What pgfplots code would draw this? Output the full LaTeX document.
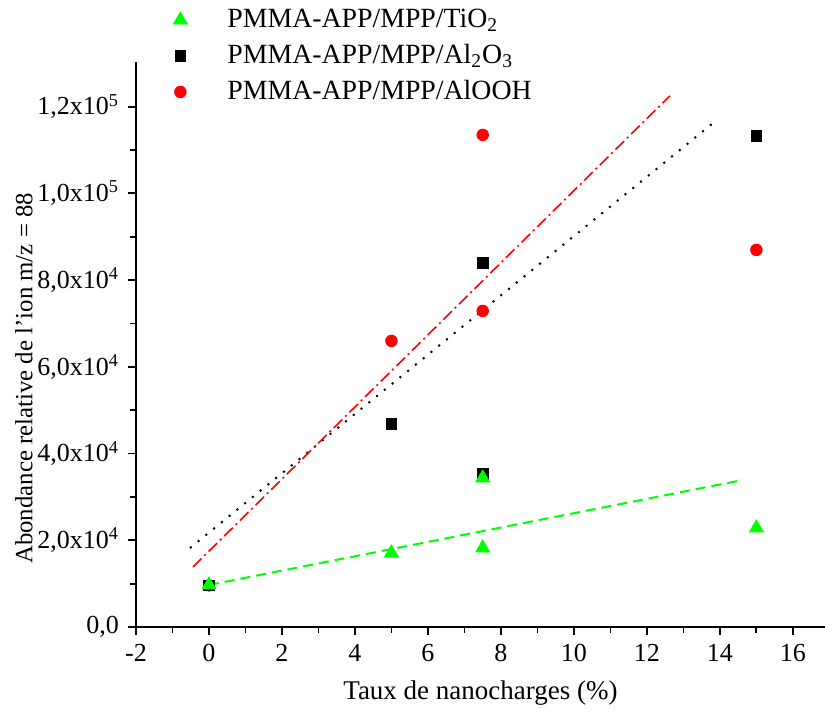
\documentclass[border=0pt]{standalone}
\usepackage{pgfplots}
\pgfplotsset{compat=1.18}
\usepackage{fontspec}
\setmainfont{Liberation Serif}
\definecolor{pgreen}{RGB}{0,255,0}
\definecolor{pred}{RGB}{255,0,0}
\pgfplotsset{
  legend image code/.code={\path[draw=none] (-8pt,0pt) -- (21.5pt,0pt); \draw[#1] plot[only marks] coordinates {(0pt,0pt)};}
}
\begin{document}
\fontsize{13pt}{15pt}\selectfont
\begin{tikzpicture}
\begin{axis}[
  at={(0,0)}, anchor=south west,
  scale only axis,
  width=344.5pt, height=282.5pt,
  xmin=-2, xmax=16.88, ymin=0, ymax=130300,
  axis x line*=bottom, axis y line*=left,
  axis line style={line width=1pt},
  tick align=outside,
  major tick length=4pt, minor tick length=3pt,
  every tick/.style={black, line width=0.9pt},
  xtick={-2,0,2,4,6,8,10,12,14,16},
  xticklabels={-2,0,2,4,6,8,10,12,14,16},
  minor x tick num=1,
  ytick={0,20000,40000,60000,80000,100000,120000},
  yticklabels={{0,0},{2,0x10\textsuperscript{4}},{4,0x10\textsuperscript{4}},{6,0x10\textsuperscript{4}},{8,0x10\textsuperscript{4}},{1,0x10\textsuperscript{5}},{1,2x10\textsuperscript{5}}},
  minor y tick num=1,
  scaled y ticks=false,
  tick label style={font=\fontsize{13pt}{15pt}\selectfont},
  xlabel style={font=\fontsize{13.5pt}{16pt}\selectfont, yshift=-0.5pt},
  ylabel style={font=\fontsize{12.4pt}{15pt}\selectfont, at={(rel axis cs:-0.1626,0.44)}, anchor=center},
  xlabel={Taux de nanocharges (\%)},
  ylabel={Abondance relative de l'ion m/z = 88},
  clip=false,
  reverse legend,
  legend cell align=left,
  legend style={draw=none, fill=none, inner sep=0pt, row sep=3.5pt,
    at={(0.0406,1.10)}, anchor=north west,
    nodes={inner ysep=1.5pt},
    font=\fontsize{13.9pt}{16pt}\selectfont},
]
% fit lines
\addplot[forget plot, pgreen, line width=1pt, dash pattern=on 5pt off 3pt] coordinates {(0,9690) (14.63,33910)};
\addplot[forget plot, black, line width=1pt, dash pattern=on 1pt off 4pt] coordinates {(-0.52,18220) (13.78,116000)};
\addplot[forget plot, pred, line width=0.8pt, dash pattern=on 6pt off 2pt on 1pt off 2pt] coordinates {(-0.44,13840) (12.63,122490)};
% data
\addplot[only marks, mark=*, mark size=2.9pt, pred, mark options={fill=pred, draw=pred}]
  coordinates {(0,9600) (5,65970) (7.5,113490) (7.5,72890) (15,86970)};
\addlegendentry{PMMA-APP/MPP/AlOOH}
\addplot[only marks, mark=square*, mark size=2.7pt, black, mark options={fill=black, draw=black}]
  coordinates {(0,9600) (5,46830) (7.5,83970) (7.5,35290) (15,113260)};
\addlegendentry{PMMA-APP/MPP/Al\textsubscript{2}O\textsubscript{3}}
\addplot[only marks, mark=triangle*, mark size=4pt, pgreen, mark options={fill=pgreen, draw=pgreen}]
  coordinates {(0,9690) (5,17070) (7.5,18220) (7.5,34370) (15,22840)};
\addlegendentry{PMMA-APP/MPP/TiO\textsubscript{2}}
\end{axis}
\pgfresetboundingbox
\path (-68pt,-45pt) rectangle (344.5pt,313.5pt);
\end{tikzpicture}
\end{document}
